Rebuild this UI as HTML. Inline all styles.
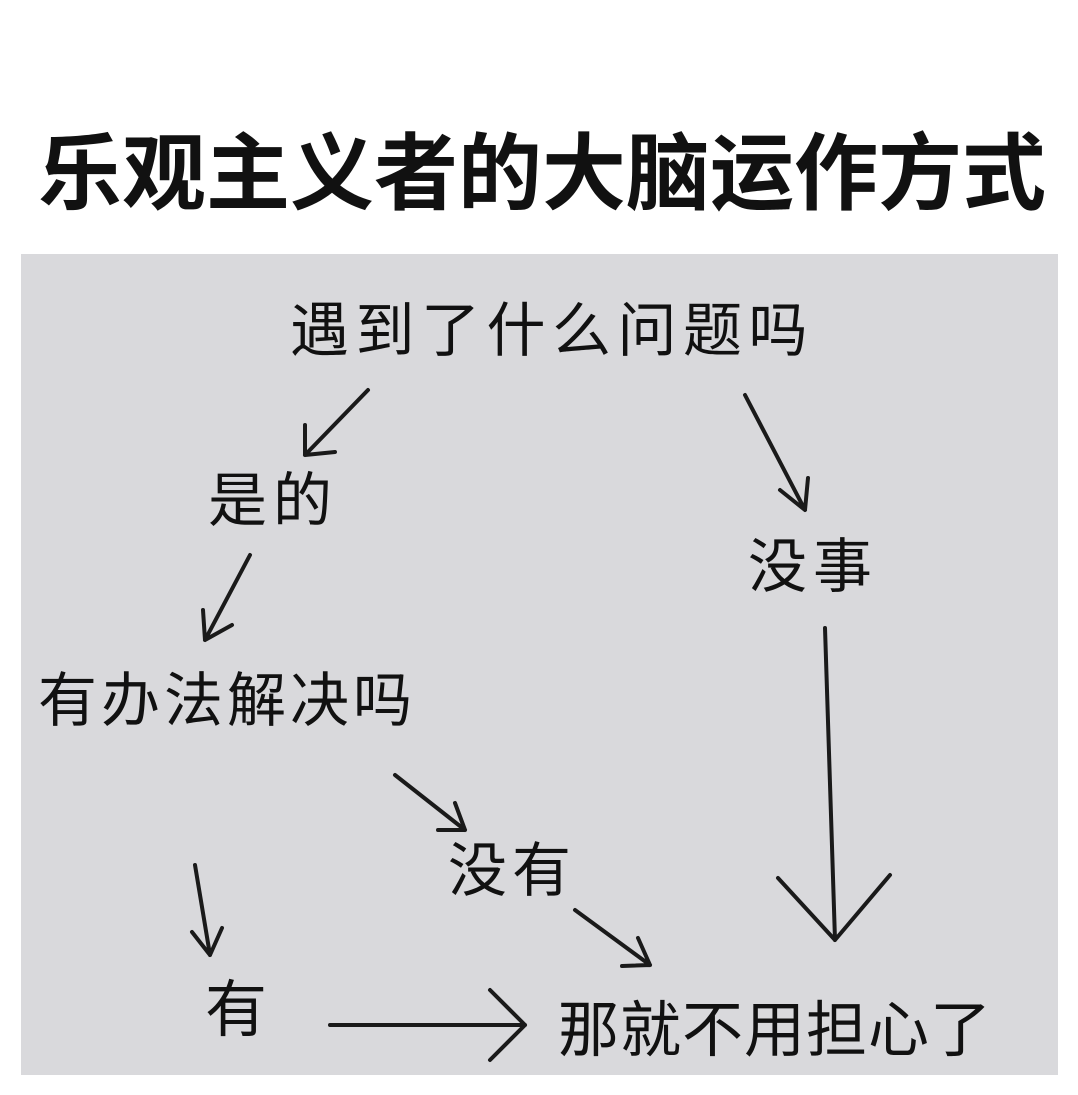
<!DOCTYPE html>
<html><head><meta charset="utf-8"><style>
body{margin:0;width:1078px;height:1095px;background:#fff;position:relative;overflow:hidden;font-family:"Liberation Sans","Noto Sans CJK SC",sans-serif}
.t{position:absolute;white-space:nowrap;color:#111;line-height:1}
#box{position:absolute;left:21px;top:254px;width:1037px;height:821px;background:#d9d9dc}
</style></head><body>
<div class="t" style="left:38px;top:132px;font-size:84px;font-weight:bold;">乐观主义者的大脑运作方式</div>
<div id="box"></div>
<div class="t" style="left:290px;top:302px;font-size:59px;letter-spacing:6.5px">遇到了什么问题吗</div>
<div class="t" style="left:208px;top:472px;font-size:59px;letter-spacing:6px">是的</div>
<div class="t" style="left:748px;top:538px;font-size:59px;letter-spacing:6px">没事</div>
<div class="t" style="left:38px;top:672px;font-size:59px;letter-spacing:4px">有办法解决吗</div>
<div class="t" style="left:448px;top:842px;font-size:59px;letter-spacing:5px">没有</div>
<div class="t" style="left:205px;top:980px;font-size:62px">有</div>
<div class="t" style="left:558px;top:1000px;font-size:61px;letter-spacing:1px">那就不用担心了</div>
<svg width="1078" height="1095" style="position:absolute;left:0;top:0" fill="none" stroke="#1a1a1a" stroke-width="4" stroke-linecap="round" stroke-linejoin="round">
<path d="M368 390L305 455M305 425L305 455L335 452"/>
<path d="M745 395L805 510M780 490L805 510L808 478"/>
<path d="M250 555L205 640M203 610L205 640L232 625"/>
<path d="M825 628L835 940M778 878L835 940L890 875"/>
<path d="M395 775L465 830M438 830L465 830L455 803"/>
<path d="M195 865L210 955M192 932L210 955L222 928"/>
<path d="M575 910L650 965M622 966L650 965L638 938"/>
<path d="M330 1025L525 1025M490 990L525 1025L490 1060"/>
</svg>
</body></html>
